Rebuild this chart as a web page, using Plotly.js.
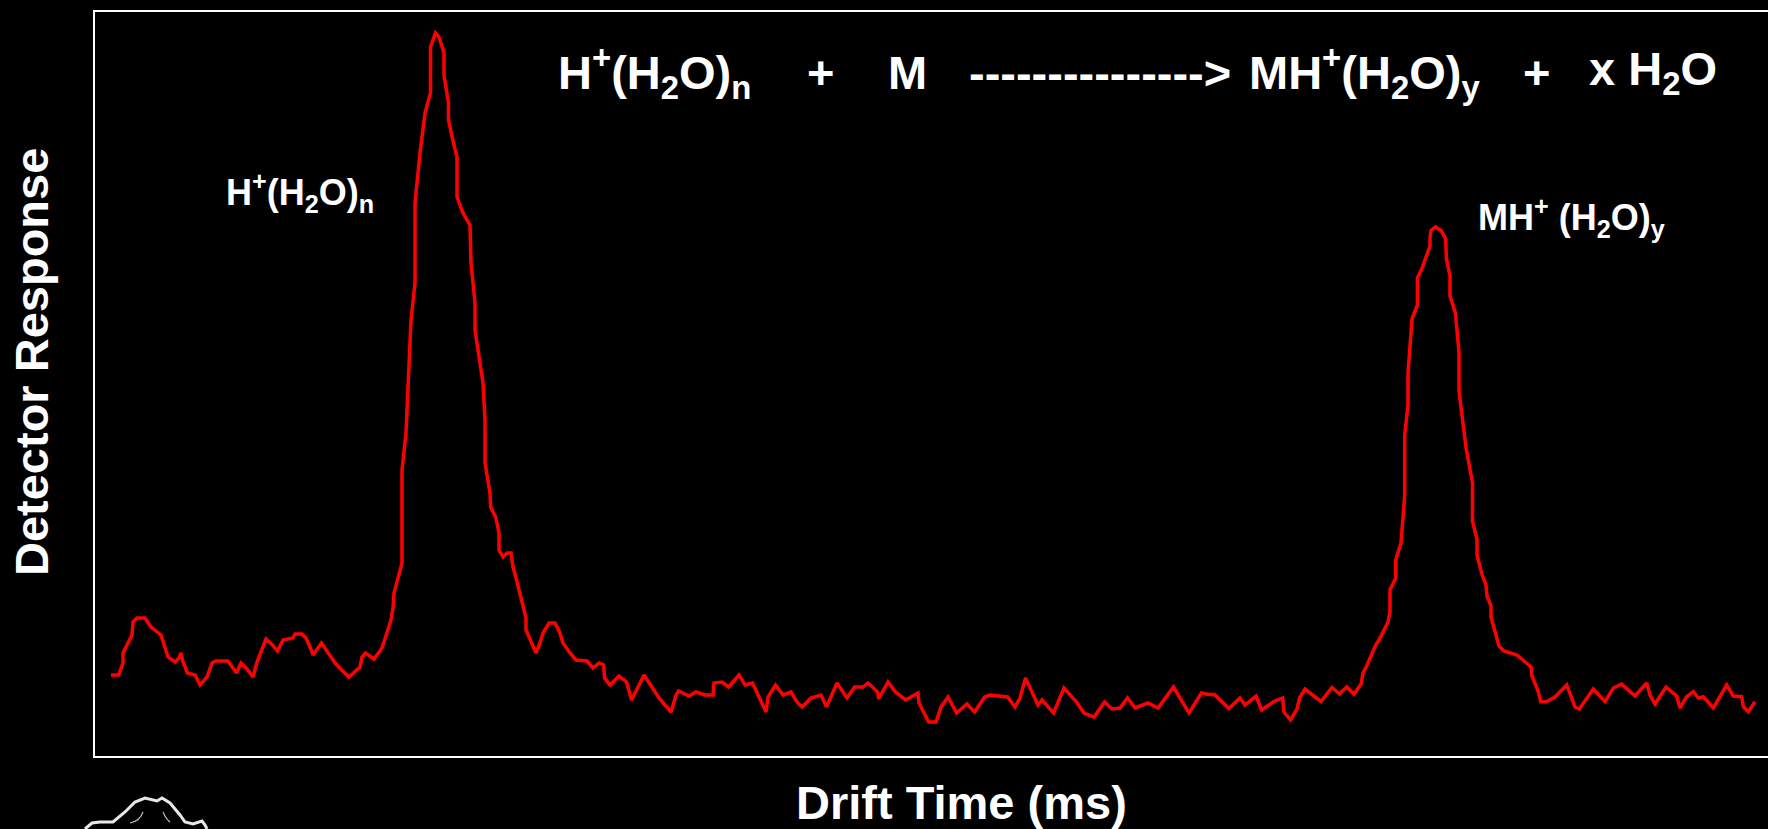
<!DOCTYPE html>
<html>
<head>
<meta charset="utf-8">
<script src="https://cdn.plot.ly/plotly-3.0.1.min.js"></script>
<style>
  html, body { margin: 0; padding: 0; background: #000; overflow: hidden; }
  #chart { width: 1768px; height: 829px; }
</style>
</head>
<body>
<div id="chart"></div>
<script>
// Drift time (ms) and detector response (arbitrary units)
const driftTime = [
  0.17,0.246,0.29,0.29,0.38,0.39,0.43,0.51,0.57,0.67,0.74,0.81,0.85,0.87,0.89,0.935,1.01,1.06,1.13,1.18,
  1.22,1.34,1.39,1.425,1.47,1.53,1.59,1.63,1.72,1.785,1.835,1.89,1.99,2.01,2.08,2.12,2.16,2.19,2.275,2.33,
  2.41,2.466,2.55,2.66,2.68,2.715,2.80,2.88,2.94,2.97,2.99,3.00,3.08,3.08,3.08,3.12,3.136,3.17,3.21,3.21,
  3.26,3.31,3.365,3.365,3.415,3.45,3.50,3.50,3.545,3.545,3.595,3.63,3.63,3.69,3.76,3.77,3.81,3.81,3.89,3.91,
  3.91,3.96,3.966,4.016,4.05,4.05,4.09,4.13,4.17,4.19,4.226,4.32,4.32,4.36,4.42,4.46,4.49,4.55,4.61,4.655,
  4.69,4.76,4.82,4.93,4.99,5.05,
  5.096,5.106,5.16,5.25,5.325,5.376,5.44,5.50,5.65,5.77,5.82,5.846,5.95,6.02,6.11,6.19,6.20,6.28,6.346,6.45,
  6.51,6.586,6.65,6.72,6.74,6.815,6.89,6.97,7.03,7.08,7.17,7.27,7.325,7.43,7.53,7.606,7.69,7.74,7.836,7.846,
  7.94,8.014,8.116,8.24,8.25,8.346,8.42,8.47,8.54,8.626,8.73,8.805,8.907,8.96,9.136,9.21,9.26,9.315,9.44,9.48,
  9.596,9.70,9.825,9.90,10.00,10.106,10.18,10.26,10.335,10.41,10.54,10.64,10.795,10.95,11.075,
  11.15,11.205,11.33,11.35,11.46,11.51,11.62,11.676,11.80,11.886,11.90,11.966,12.03,12.056,12.11,12.27,12.38,12.455,12.527,12.60,
  12.67,12.69,12.727,12.817,12.85,12.94,12.96,12.96,13.017,13.017,13.07,13.107,13.107,13.14,13.14,13.18,13.234,13.234,13.277,13.36,
  13.36,13.37,13.415,13.47,13.517,13.524,13.56,13.56,13.614,13.65,13.65,13.72,13.785,13.785,13.83,13.83,13.88,13.92,13.93,13.97,
  13.97,14.01,14.05,14.10,14.23,14.37,14.38,14.443,14.467,14.52,14.61,14.727,14.777,14.81,14.853,14.993,15.11,15.193,15.277,15.41,
  15.527,15.56,15.61,15.72,15.827,15.86,15.927,15.993,16.043,16.093,16.193,16.327,16.393,16.477,16.493,16.543,16.61
];
const response = [
  0.81,0.81,0.93,1.03,1.21,1.34,1.38,1.38,1.29,1.21,0.99,0.94,0.98,1.03,0.94,0.83,0.81,0.71,0.79,0.93,
  0.95,0.95,0.88,0.83,0.93,0.87,0.79,0.94,1.17,1.11,1.05,1.16,1.18,1.22,1.22,1.18,1.09,1.01,1.13,1.05,
  0.93,0.87,0.79,0.89,0.99,1.03,0.97,1.08,1.26,1.36,1.48,1.63,1.93,2.19,2.86,3.23,3.63,4.36,4.73,5.53,
  6.03,6.43,6.63,7.09,7.23,7.19,7.03,6.81,6.53,6.36,6.13,5.99,5.59,5.43,5.31,4.93,4.53,4.26,3.73,3.36,
  2.93,2.63,2.49,2.39,2.23,2.06,1.99,2.03,2.03,1.89,1.76,1.38,1.26,1.16,1.03,1.13,1.23,1.33,1.33,1.24,
  1.13,1.03,0.96,0.95,0.88,0.93,
  0.91,0.78,0.71,0.80,0.74,0.56,0.68,0.81,0.58,0.44,0.61,0.65,0.60,0.64,0.61,0.61,0.73,0.74,0.69,0.81,
  0.71,0.73,0.59,0.44,0.59,0.71,0.61,0.64,0.54,0.49,0.58,0.61,0.49,0.73,0.58,0.69,0.69,0.73,0.64,0.57,
  0.74,0.64,0.56,0.63,0.53,0.34,0.34,0.49,0.59,0.43,0.52,0.44,0.59,0.61,0.59,0.49,0.58,0.78,0.51,0.56,
  0.43,0.68,0.54,0.43,0.39,0.54,0.47,0.48,0.58,0.48,0.53,0.48,0.69,0.43,0.63,
  0.615,0.615,0.49,0.474,0.58,0.51,0.60,0.46,0.545,0.58,0.44,0.36,0.47,0.58,0.67,0.545,0.685,0.62,0.69,0.62,
  0.72,0.83,0.90,1.11,1.16,1.34,1.445,1.66,1.78,1.96,2.13,2.61,3.21,3.51,3.83,4.37,4.51,4.78,4.87,5.10,
  5.185,5.255,5.29,5.255,5.17,4.973,4.80,4.60,4.43,4.04,3.65,3.085,2.73,2.344,2.17,2.01,1.815,1.71,1.60,1.50,
  1.39,1.25,1.10,1.05,1.01,0.89,0.80,0.643,0.543,0.543,0.59,0.71,0.57,0.49,0.47,0.67,0.543,0.68,0.72,0.60,
  0.73,0.61,0.52,0.69,0.60,0.48,0.593,0.643,0.58,0.593,0.48,0.71,0.60,0.593,0.493,0.443,0.543
];

const xTitle = "Drift Time (ms)";
const yTitle = "Detector Response";
const equationParts = [
  "H<sup>+</sup>(H<sub>2</sub>O)<sub>n</sub>",
  "+",
  "M",
  "--------------->",
  "MH<sup>+</sup>(H<sub>2</sub>O)<sub>y</sub>",
  "+",
  "x H<sub>2</sub>O"
];
const peakLabels = [
  "H<sup>+</sup>(H<sub>2</sub>O)<sub>n</sub>",
  "MH<sup>+</sup> (H<sub>2</sub>O)<sub>y</sub>"
];

const W = 1768, H = 829;
const M = {l: 95, r: 0, t: 12, b: 73};
const PW = W - M.l - M.r, PH = H - M.t - M.b;
const px = v => (v - M.l) / PW;
const py = v => (H - M.b - v) / PH;
const FONT = "Liberation Sans, Arial, Helvetica, sans-serif";

const trace = {
  x: driftTime, y: response, type: 'scatter', mode: 'lines',
  line: {color: '#ff0000', width: 3.5}, hoverinfo: 'skip'
};

function ann(text, xpx, ypx, size, opts) {
  return Object.assign({
    text: '<b>' + text + '</b>', xref: 'paper', yref: 'paper',
    x: px(xpx), y: py(ypx), xanchor: 'left', yanchor: 'middle',
    showarrow: false, font: {family: FONT, size: size, color: '#ffffff'}
  }, opts || {});
}

const eqLeft = [556, 805, 886, 967, 1247, 1521, 1587];
const eqMid = 72;
const annotations = equationParts.map((t, i) => ann(t, eqLeft[i], eqMid, 47));
annotations.push(ann(peakLabels[0], 224, 192, 36));
annotations.push(ann(peakLabels[1], 1476, 218, 36));
annotations.push(ann(xTitle, 961, 802, 47, {xanchor: 'center'}));
annotations.push(ann(yTitle, 31, 362, 47, {xanchor: 'center', textangle: -90}));

// decorative hat outline (bottom-left)
const hatPts = [[85,829],[92,823],[100,822],[113,822],[125,812],[135,802],[145,798],[157,801],[162,798],[170,803],[180,815],[185,822],[193,824],[202,821],[205,825],[207,829]];
let hatPath = hatPts.map((p, i) => (i ? 'L' : 'M') + px(p[0]).toFixed(5) + ',' + py(p[1]).toFixed(5)).join(' ');
const arc1 = 'M' + px(130) + ',' + py(823) + ' Q' + px(140) + ',' + py(821) + ' ' + px(143) + ',' + py(812);
const arc2 = 'M' + px(163) + ',' + py(812) + ' Q' + px(166) + ',' + py(819) + ' ' + px(170) + ',' + py(822);

const layout = {
  width: W, height: H,
  margin: M,
  paper_bgcolor: '#000000', plot_bgcolor: '#000000',
  showlegend: false,
  xaxis: {range: [0.01, 0.01 + PW / 100], showgrid: false, zeroline: false, showticklabels: false, ticks: '',
          showline: true, mirror: true, linecolor: '#ffffff', linewidth: 2, fixedrange: true},
  yaxis: {range: [0, PH / 100], showgrid: false, zeroline: false, showticklabels: false, ticks: '',
          showline: true, mirror: false, linecolor: '#ffffff', linewidth: 2, fixedrange: true},
  annotations: annotations,
  shapes: [
    {type: 'path', xref: 'paper', yref: 'paper', path: hatPath, line: {color: '#e8e8e8', width: 3}},
    {type: 'path', xref: 'paper', yref: 'paper', path: arc1, line: {color: '#bbbbbb', width: 1.2}},
    {type: 'path', xref: 'paper', yref: 'paper', path: arc2, line: {color: '#bbbbbb', width: 1.2}}
  ]
};

Plotly.newPlot('chart', [trace], layout, {displayModeBar: false, staticPlot: true});
</script>
</body>
</html>
